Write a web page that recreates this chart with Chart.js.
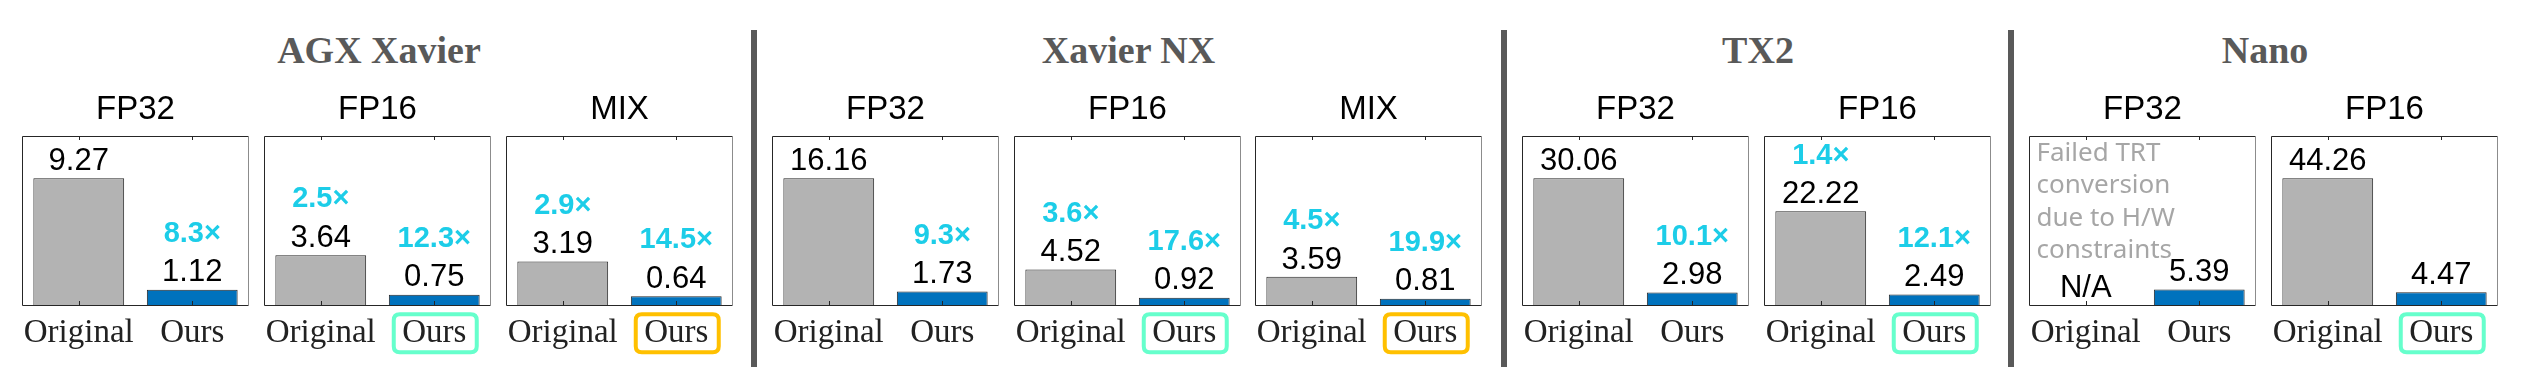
<!DOCTYPE html>
<html>
<head>
<meta charset="utf-8">
<script src="https://cdn.jsdelivr.net/npm/chart.js@4/dist/chart.umd.min.js"></script>
<style>
  html, body { margin: 0; padding: 0; background: #ffffff; }
  body { width: 2523px; height: 385px; position: relative; overflow: hidden; }
  .panel { position: absolute; }
  .header { position: absolute; font-family: 'Liberation Serif', 'Times New Roman', serif; font-weight: bold;
            font-size: 38px; line-height: 38px; color: #595959; white-space: nowrap; text-align: center; }
  .sep { position: absolute; background: #595959; }
</style>
</head>
<body>
<script>
// ---------------- DATA ----------------
const devices = ["AGX Xavier", "Xavier NX", "TX2", "Nano"];
const panelDevice = [0, 0, 0, 1, 1, 1, 2, 2, 3, 3];
const panelTitles = ["FP32", "FP16", "MIX", "FP32", "FP16", "MIX", "FP32", "FP16", "FP32", "FP16"];
const categories = ["Original", "Ours"];
const originalValues = [9.27, 3.64, 3.19, 16.16, 4.52, 3.59, 30.06, 22.22, null, 44.26];
const oursValues = [1.12, 0.75, 0.64, 1.73, 0.92, 0.81, 2.98, 2.49, 5.39, 4.47];
const originalSpeedup = [null, 2.5, 2.9, null, 3.6, 4.5, null, 1.4, null, null];
const oursSpeedup = [8.3, 12.3, 14.5, 9.3, 17.6, 19.9, 10.1, 12.1, null, null];
const highlight = [null, "teal", "orange", null, "teal", "orange", null, "teal", null, "teal"];
const naLabel = "N/A";
const naNoteLines = ["Failed TRT", "conversion", "due to H/W", "constraints"];

// ---------------- LAYOUT / STYLE ----------------
const boxLeft = [22, 264, 506, 772, 1014, 1255, 1522, 1764, 2029, 2271];
const boxW = 227;
const boxTop = 136, boxBottom = 305;
const canvasTop = 80, canvasH = 290, padX = 14;
const separators = [751, 1501, 2008];
const COLORS = {
  gray: "#b3b3b3", blue: "#0072bd", barEdge: "#262626", frame: "#262626", frameRight: "#8c8c8c",
  cyan: "#1ccde8", teal: "#66ffcc", orange: "#ffc000", note: "#a6a6a6", text: "#000000", axisText: "#222222"
};

// device y max (shared per device)
const deviceMax = devices.map((d, di) => {
  let m = 0;
  panelDevice.forEach((pd, i) => {
    if (pd === di) {
      if (originalValues[i] != null) m = Math.max(m, originalValues[i]);
      if (oursValues[i] != null) m = Math.max(m, oursValues[i]);
    }
  });
  return m * 4 / 3;
});

// headers + separators
devices.forEach((d, di) => {
  const idx = panelDevice.map((p, i) => p === di ? i : -1).filter(i => i >= 0);
  const l = boxLeft[idx[0]], r = boxLeft[idx[idx.length - 1]] + boxW;
  const c = (l + r) / 2 + 1.5;
  const div = document.createElement('div');
  div.className = 'header';
  div.textContent = d;
  div.style.left = (c - 200) + 'px';
  div.style.width = '400px';
  div.style.top = '30.5px';
  document.body.appendChild(div);
});
separators.forEach(x => {
  const s = document.createElement('div');
  s.className = 'sep';
  s.style.left = x + 'px'; s.style.width = '6px';
  s.style.top = '30px'; s.style.height = '337px';
  document.body.appendChild(s);
});

function roundRect(ctx, x, y, w, h, r) {
  ctx.beginPath();
  ctx.moveTo(x + r, y);
  ctx.lineTo(x + w - r, y); ctx.quadraticCurveTo(x + w, y, x + w, y + r);
  ctx.lineTo(x + w, y + h - r); ctx.quadraticCurveTo(x + w, y + h, x + w - r, y + h);
  ctx.lineTo(x + r, y + h); ctx.quadraticCurveTo(x, y + h, x, y + h - r);
  ctx.lineTo(x, y + r); ctx.quadraticCurveTo(x, y, x + r, y);
  ctx.closePath();
}

const decorPlugin = {
  id: 'decor',
  afterDatasetsDraw(chart) {
    const i = chart.options.plugins.decor.panel;
    const ctx = chart.ctx;
    const a = chart.chartArea;
    const xs = chart.scales.x, ys = chart.scales.y;
    ctx.save();
    // frame
    ctx.lineWidth = 1;
    ctx.strokeStyle = COLORS.frame;
    ctx.beginPath();
    ctx.moveTo(a.right, a.top + 0.5); ctx.lineTo(a.left + 0.5, a.top + 0.5);
    ctx.lineTo(a.left + 0.5, a.bottom + 0.5); ctx.lineTo(a.right, a.bottom + 0.5);
    ctx.stroke();
    ctx.strokeStyle = COLORS.frameRight;
    ctx.beginPath();
    ctx.moveTo(a.right - 0.5, a.top); ctx.lineTo(a.right - 0.5, a.bottom + 1);
    ctx.stroke();
    // inner ticks
    ctx.strokeStyle = COLORS.frame;
    categories.forEach((c, k) => {
      const x = Math.round(xs.getPixelForValue(k)) + 0.5;
      ctx.beginPath();
      ctx.moveTo(x, a.top); ctx.lineTo(x, a.top + 4);
      ctx.moveTo(x, a.bottom); ctx.lineTo(x, a.bottom - 4);
      ctx.stroke();
    });
    // subtitle
    ctx.fillStyle = COLORS.text;
    ctx.textAlign = 'center';
    ctx.textBaseline = 'alphabetic';
    ctx.font = "33px 'Liberation Sans', Arial, sans-serif";
    ctx.fillText(panelTitles[i], (a.left + a.right) / 2, 39.3);
    // value labels
    const vals = [originalValues[i], oursValues[i]];
    const sps = [originalSpeedup[i], oursSpeedup[i]];
    vals.forEach((v, k) => {
      const x = xs.getPixelForValue(k);
      const y = ys.getPixelForValue(v == null ? 0 : v);
      const base = y - 8.3;
      ctx.fillStyle = COLORS.text;
      ctx.font = "31px 'Liberation Sans', Arial, sans-serif";
      ctx.fillText(v == null ? naLabel : v.toFixed(2), x, base);
      if (sps[k] != null) {
        ctx.fillStyle = COLORS.cyan;
        ctx.font = "bold 29px 'Liberation Sans', Arial, sans-serif";
        ctx.fillText(sps[k].toFixed(1) + "\u00d7", x, base - 39.5);
      }
    });
    // note for missing value
    if (originalValues[i] == null) {
      ctx.fillStyle = COLORS.note;
      ctx.textAlign = 'left';
      ctx.font = "26px 'Noto Sans', sans-serif";
      naNoteLines.forEach((ln, j) => {
        ctx.fillText(ln, a.left + 7.5, a.top + 25 + j * 32.3);
      });
      ctx.textAlign = 'center';
    }
    // category labels
    ctx.fillStyle = COLORS.axisText;
    ctx.font = "33px 'Liberation Serif', 'Times New Roman', serif";
    categories.forEach((c, k) => {
      ctx.fillText(c, xs.getPixelForValue(k), 262.3);
    });
    // highlight box
    if (highlight[i]) {
      const cx = xs.getPixelForValue(1) + 1;
      ctx.strokeStyle = COLORS[highlight[i]];
      ctx.lineWidth = 4;
      roundRect(ctx, cx - 43.5 + 2, 232.3 + 2, 87 - 4, 42 - 4, 6);
      ctx.stroke();
    }
    ctx.restore();
  }
};

panelTitles.forEach((t, i) => {
  const div = document.createElement('div');
  div.className = 'panel';
  div.style.left = (boxLeft[i] - padX) + 'px';
  div.style.top = canvasTop + 'px';
  div.style.width = (boxW + 2 * padX) + 'px';
  div.style.height = canvasH + 'px';
  const cv = document.createElement('canvas');
  div.appendChild(cv);
  document.body.appendChild(div);
  new Chart(cv, {
    type: 'bar',
    data: {
      labels: categories,
      datasets: [{
        data: [originalValues[i], oursValues[i]],
        backgroundColor: [COLORS.gray, COLORS.blue],
        borderColor: COLORS.barEdge,
        borderWidth: 1,
        barPercentage: 0.8,
        categoryPercentage: 1.0
      }]
    },
    options: {
      responsive: true,
      maintainAspectRatio: false,
      devicePixelRatio: 1,
      animation: false,
      layout: { padding: { left: padX, right: padX, top: boxTop - canvasTop, bottom: canvasTop + canvasH - boxBottom } },
      plugins: { legend: { display: false }, tooltip: { enabled: false }, decor: { panel: i } },
      scales: {
        x: { display: false },
        y: { display: false, min: 0, max: deviceMax[panelDevice[i]] }
      }
    },
    plugins: [decorPlugin]
  });
});
</script>
</body>
</html>
